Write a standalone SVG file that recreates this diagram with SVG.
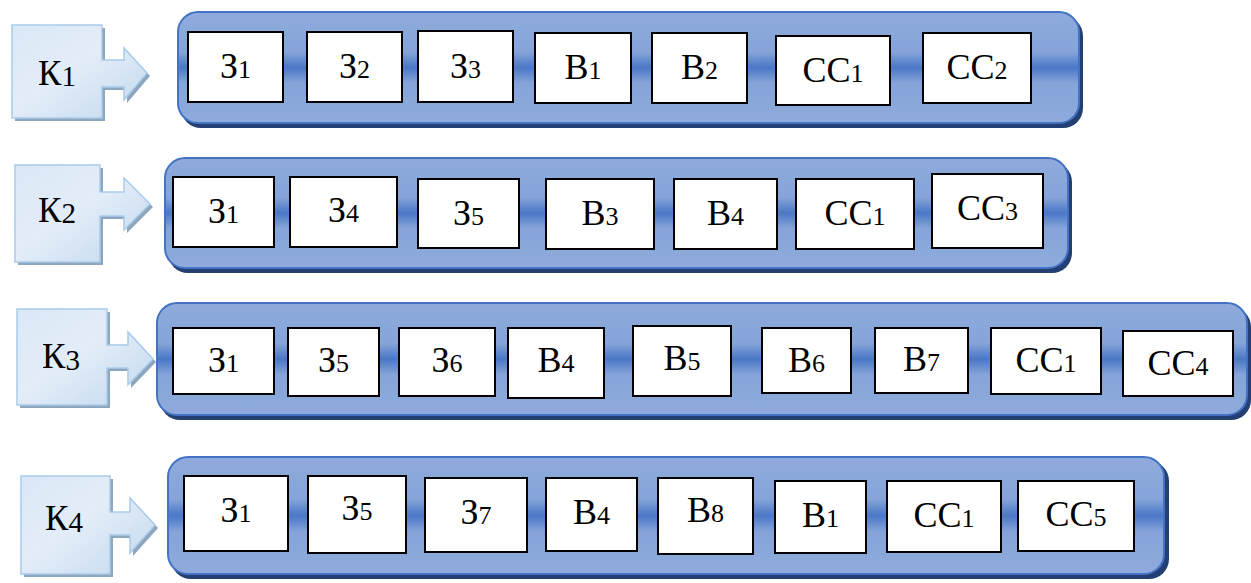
<svg xmlns="http://www.w3.org/2000/svg" width="1251" height="583" viewBox="0 0 1251 583">
<defs>
<linearGradient id="barGrad" x1="0" y1="0" x2="0" y2="1">
<stop offset="0" stop-color="#8fabdc"/>
<stop offset="0.36" stop-color="#86a4d9"/>
<stop offset="0.5" stop-color="#4a77c7"/>
<stop offset="0.64" stop-color="#86a4d9"/>
<stop offset="1" stop-color="#8fabdc"/>
</linearGradient>
<linearGradient id="kGrad" x1="0" y1="0" x2="1" y2="1">
<stop offset="0" stop-color="#dae7f5"/>
<stop offset="0.45" stop-color="#e3edf8"/>
<stop offset="1" stop-color="#c2d8ee"/>
</linearGradient>
<style>
.bar{fill:url(#barGrad);stroke:#4472c4;stroke-width:2}
.barsh{fill:#243f73}
.k{fill:url(#kGrad);stroke:#a9cbea;stroke-width:1.5}
.ksh{fill:#8ea6bd}
.box{fill:#fff;stroke:#000;stroke-width:2}
.t{font-size:36px;fill:#000;text-anchor:middle}
.s{font-size:26px}
.kt{font-size:35px;fill:#000;text-anchor:middle}
.ks{font-size:29px}
</style>
</defs>
<g id="connectors"/>
<g font-family="'Liberation Serif', 'Times New Roman', serif">
<!-- K callouts -->
<g id="K1">
<path class="ksh" transform="translate(3,3)" d="M12,25H102V60H124V48L147,73L124,100V87H102V118H12Z"/>
<path class="k" d="M12,25H102V60H124V48L147,73L124,100V87H102V118H12Z"/>
<text class="kt" x="57" y="85">К<tspan class="ks" dy="1">1</tspan></text>
</g>
<g id="K2">
<path class="ksh" transform="translate(3,3)" d="M15,165H100V192H124V178L150,204L124,230V216H100V262H15Z"/>
<path class="k" d="M15,165H100V192H124V178L150,204L124,230V216H100V262H15Z"/>
<text class="kt" x="57" y="222">К<tspan class="ks" dy="1">2</tspan></text>
</g>
<g id="K3">
<path class="ksh" transform="translate(3,3)" d="M17,309H107V345H128V332L153,359L128,385V368H107V405H17Z"/>
<path class="k" d="M17,309H107V345H128V332L153,359L128,385V368H107V405H17Z"/>
<text class="kt" x="61" y="368">К<tspan class="ks" dy="2">3</tspan></text>
</g>
<g id="K4">
<path class="ksh" transform="translate(3,3)" d="M21,476H110V512H130V498L155,525L130,553V535H110V574H21Z"/>
<path class="k" d="M21,476H110V512H130V498L155,525L130,553V535H110V574H21Z"/>
<text class="kt" x="64" y="530">К<tspan class="ks" dy="2">4</tspan></text>
</g>

<!-- bars -->
<g id="bar1">
<rect class="barsh" x="181" y="16" width="902" height="112" rx="20"/>
<rect class="bar" x="178" y="12" width="901" height="111" rx="20"/>
</g>
<g id="bar2">
<rect class="barsh" x="168" y="162" width="904" height="111" rx="20"/>
<rect class="bar" x="165" y="158" width="903" height="110" rx="20"/>
</g>
<g id="bar3">
<rect class="barsh" x="160" y="307" width="1091" height="113" rx="20"/>
<rect class="bar" x="157" y="303" width="1090" height="112" rx="20"/>
</g>
<g id="bar4">
<rect class="barsh" x="171" y="461" width="998" height="118" rx="20"/>
<rect class="bar" x="168" y="457" width="996" height="117" rx="20"/>
</g>

<!-- row 1 -->
<g id="r1-z1"><rect class="box" x="188" y="32" width="95" height="70"/><text class="t" x="235.5" y="78">З<tspan class="s">1</tspan></text></g>
<g id="r1-z2"><rect class="box" x="307" y="32" width="95" height="70"/><text class="t" x="354.5" y="78">З<tspan class="s">2</tspan></text></g>
<g id="r1-z3"><rect class="box" x="418" y="31" width="95" height="71"/><text class="t" x="465.5" y="78">З<tspan class="s">3</tspan></text></g>
<g id="r1-b1"><rect class="box" x="535" y="33" width="96" height="70"/><text class="t" x="583" y="79">В<tspan class="s">1</tspan></text></g>
<g id="r1-b2"><rect class="box" x="652" y="33" width="95" height="70"/><text class="t" x="699.5" y="79">В<tspan class="s">2</tspan></text></g>
<g id="r1-cc1"><rect class="box" x="776" y="36" width="114" height="69"/><text class="t" x="833" y="82">СС<tspan class="s">1</tspan></text></g>
<g id="r1-cc2"><rect class="box" x="923" y="33" width="108" height="70"/><text class="t" x="977" y="79">СС<tspan class="s">2</tspan></text></g>

<!-- row 2 -->
<g id="r2-z1"><rect class="box" x="173" y="177" width="101" height="70"/><text class="t" x="223.5" y="223">З<tspan class="s">1</tspan></text></g>
<g id="r2-z4"><rect class="box" x="290" y="177" width="107" height="70"/><text class="t" x="343.5" y="222">З<tspan class="s">4</tspan></text></g>
<g id="r2-z5"><rect class="box" x="418" y="179" width="101" height="69"/><text class="t" x="468.5" y="225">З<tspan class="s">5</tspan></text></g>
<g id="r2-b3"><rect class="box" x="546" y="179" width="108" height="70"/><text class="t" x="600" y="225">В<tspan class="s">3</tspan></text></g>
<g id="r2-b4"><rect class="box" x="674" y="179" width="103" height="70"/><text class="t" x="725.5" y="225">В<tspan class="s">4</tspan></text></g>
<g id="r2-cc1"><rect class="box" x="796" y="179" width="118" height="70"/><text class="t" x="855" y="225">СС<tspan class="s">1</tspan></text></g>
<g id="r2-cc3"><rect class="box" x="932" y="174" width="111" height="74"/><text class="t" x="987.5" y="220">СС<tspan class="s">3</tspan></text></g>

<!-- row 3 -->
<g id="r3-z1"><rect class="box" x="173" y="328" width="101" height="66"/><text class="t" x="223.5" y="372">З<tspan class="s">1</tspan></text></g>
<g id="r3-z5"><rect class="box" x="288" y="328" width="91" height="68"/><text class="t" x="333.5" y="372">З<tspan class="s">5</tspan></text></g>
<g id="r3-z6"><rect class="box" x="399" y="328" width="96" height="68"/><text class="t" x="447" y="372">З<tspan class="s">6</tspan></text></g>
<g id="r3-b4"><rect class="box" x="508" y="328" width="96" height="70"/><text class="t" x="556" y="372">В<tspan class="s">4</tspan></text></g>
<g id="r3-b5"><rect class="box" x="633" y="326" width="98" height="70"/><text class="t" x="682" y="370">В<tspan class="s">5</tspan></text></g>
<g id="r3-b6"><rect class="box" x="762" y="328" width="89" height="65"/><text class="t" x="806.5" y="372">В<tspan class="s">6</tspan></text></g>
<g id="r3-b7"><rect class="box" x="875" y="328" width="93" height="65"/><text class="t" x="921.5" y="371">В<tspan class="s">7</tspan></text></g>
<g id="r3-cc1"><rect class="box" x="991" y="328" width="110" height="66"/><text class="t" x="1046" y="372">СС<tspan class="s">1</tspan></text></g>
<g id="r3-cc4"><rect class="box" x="1123" y="331" width="110" height="65"/><text class="t" x="1178" y="375">СС<tspan class="s">4</tspan></text></g>

<!-- row 4 -->
<g id="r4-z1"><rect class="box" x="184" y="476" width="104" height="75"/><text class="t" x="236" y="522">З<tspan class="s">1</tspan></text></g>
<g id="r4-z5"><rect class="box" x="308" y="476" width="98" height="77"/><text class="t" x="357" y="520">З<tspan class="s">5</tspan></text></g>
<g id="r4-z7"><rect class="box" x="425" y="478" width="102" height="74"/><text class="t" x="476" y="524">З<tspan class="s">7</tspan></text></g>
<g id="r4-b4"><rect class="box" x="546" y="478" width="91" height="73"/><text class="t" x="591.5" y="524">В<tspan class="s">4</tspan></text></g>
<g id="r4-b8"><rect class="box" x="658" y="478" width="95" height="76"/><text class="t" x="705.5" y="522">В<tspan class="s">8</tspan></text></g>
<g id="r4-b1"><rect class="box" x="775" y="481" width="91" height="72"/><text class="t" x="820.5" y="527">В<tspan class="s">1</tspan></text></g>
<g id="r4-cc1"><rect class="box" x="887" y="481" width="114" height="71"/><text class="t" x="944" y="527">СС<tspan class="s">1</tspan></text></g>
<g id="r4-cc5"><rect class="box" x="1018" y="481" width="116" height="70"/><text class="t" x="1076" y="526">СС<tspan class="s">5</tspan></text></g>
</g>
</svg>
